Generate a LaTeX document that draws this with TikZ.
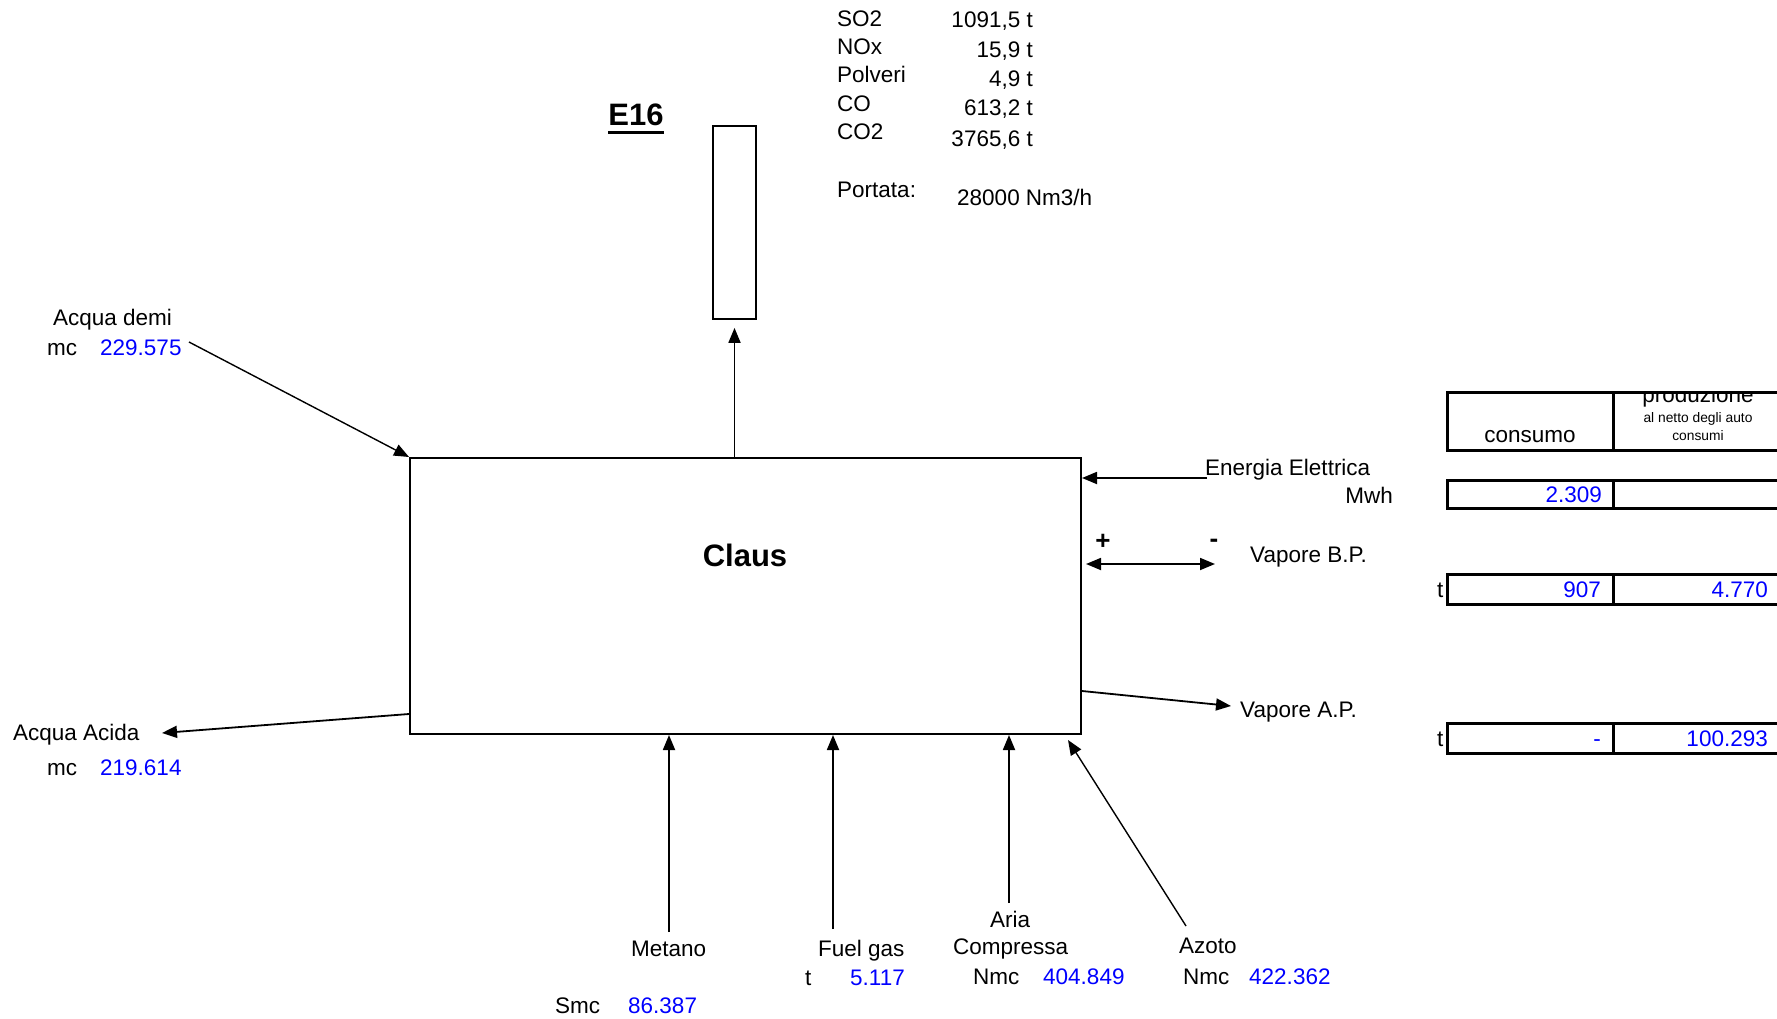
\documentclass[tikz,border=0pt]{standalone}
\usepackage{fontspec}
\setmainfont{Liberation Sans}
\usetikzlibrary{arrows.meta,positioning,calc}
\definecolor{valblue}{RGB}{0,0,255}

\tikzset{
  txt/.style={inner sep=0pt, anchor=base west, font=\fontsize{22.5}{27}\selectfont},
  val/.style={txt, text=valblue},
  small/.style={inner sep=0pt, anchor=base, font=\fontsize{13.8}{16}\selectfont},
  sign/.style={inner sep=0pt, font=\bfseries\fontsize{26}{30}\selectfont},
  flow/.style={line width=1.8pt, ->, >={Triangle[length=15pt,width=12pt]}},
  cell/.style={line width=3pt},
}

\begin{document}
\begin{tikzpicture}[x=1pt, y=-1pt]
    \useasboundingbox (0,0) rectangle (1777,1019);
    \clip (0,0) rectangle (1777,1019);

    % Unit and stack
    \node[draw, line width=2pt, minimum width=671pt, minimum height=276pt, inner sep=0pt] (claus) at (745.5,596) {};
    \node[font=\bfseries\fontsize{31}{36}\selectfont, inner sep=0pt] (clauslbl) at (745,555) {Claus};
    \node[draw, line width=1.8pt, minimum width=43pt, minimum height=193pt, inner sep=0pt] (stack) at (734.5,222.5) {};
    \node[font=\bfseries\fontsize{31}{36}\selectfont, inner sep=0pt, anchor=base] (e16) at (636,126) {E16};
    \draw[line width=3pt] ([yshift=-7pt]e16.base west) -- ([yshift=-7pt]e16.base east);

    % Emissions
    \node[txt] (so2) at (837,27) {SO2};
    \node[txt] (nox) at (837,55) {NOx};
    \node[txt] (polv) at (837,83) {Polveri};
    \node[txt] (co) at (837,112) {CO};
    \node[txt] (co2) at (837,140) {CO2};
    \node[txt, anchor=base east] (so2v) at (1033,28) {1091,5 t};
    \node[txt, anchor=base east] (noxv) at (1033,58) {15,9 t};
    \node[txt, anchor=base east] (polvv) at (1033,87) {4,9 t};
    \node[txt, anchor=base east] (cov) at (1033,116) {613,2 t};
    \node[txt, anchor=base east] (co2v) at (1033,147) {3765,6 t};
    \node[txt] (port) at (837,198) {Portata:};
    \node[txt] (portv) at (957,206) {28000 Nm3/h};

    % Left side
    \node[txt] (demi) at (53,325) {Acqua demi};
    \node[txt] (demiu) at (47,355) {mc};
    \node[val] (demiv) at (100,355) {229.575};
    \node[txt] (acida) at (13,740) {Acqua Acida};
    \node[txt] (acidau) at (47,775) {mc};
    \node[val] (acidav) at (100,775) {219.614};

    % Bottom
    \node[txt] (metano) at (631,956) {Metano};
    \node[txt] (metanou) at (555,1013) {Smc};
    \node[val] (metanov) at (628,1013) {86.387};
    \node[txt] (fuel) at (818,956) {Fuel gas};
    \node[txt] (fuelu) at (805,985) {t};
    \node[val] (fuelv) at (850,985) {5.117};
    \node[txt, anchor=base] (aria) at (1010,927) {Aria};
    \node[txt] (compr) at (953,954) {Compressa};
    \node[txt] (ariau) at (973,984) {Nmc};
    \node[val] (ariav) at (1043,984) {404.849};
    \node[txt] (azoto) at (1179,953) {Azoto};
    \node[txt] (azotou) at (1183,984) {Nmc};
    \node[val] (azotov) at (1249,984) {422.362};

    % Right side
    \node[txt] (ee) at (1205,475) {Energia Elettrica};
    \node[txt, anchor=base east] (eeu) at (1393,503) {Mwh};
    \node[sign] (plus) at (1103,542) {+};
    \node[sign] (minus) at (1214,543) {-};
    \node[txt] (bp) at (1250,562) {Vapore B.P.};
    \node[txt] (ap) at (1240,717) {Vapore A.P.};

    % Free ends
    \coordinate (demi-start) at (189,342);
    \coordinate (acida-tip) at (162,733);
    \coordinate (metano-start) at (669,932);
    \coordinate (fuel-start) at (833,929);
    \coordinate (aria-start) at (1009,903);
    \coordinate (azoto-start) at (1186,926);
    \coordinate (ee-start) at (1207,478);
    \coordinate (bp-out) at (1215,564);
    \coordinate (ap-tip) at (1231,706);

    % Connections
    \draw[flow, line width=1.4pt] (demi-start) -- (claus.north west);
    \draw[flow] (claus.west |- 0,714) -- (acida-tip);
    \draw[flow, shorten >=8pt] (claus.north -| stack.south) -- (stack.south);
    \draw[flow] (metano-start) -- (claus.south -| metano-start);
    \draw[flow] (fuel-start) -- (claus.south -| fuel-start);
    \draw[flow] (aria-start) -- (claus.south -| aria-start);
    \draw[flow, line width=1.4pt] (azoto-start) -- ($(claus.south east)+(-14,5)$);
    \draw[flow] (ee-start) -- (claus.east |- ee-start);
    \draw[flow, <->, shorten <=4pt] (claus.east |- bp-out) -- (bp-out);
    \draw[flow] (claus.east |- 0,691) -- (ap-tip);

    % Table
    \draw[cell] (1447,392) rectangle (1790,450);
    \draw[cell] (1613,392) -- (1613,450);
    \node[txt, anchor=base] (cons) at (1530,442) {consumo};
    \begin{scope}
      \clip (1613,392) rectangle (1790,450);
      \node[txt, anchor=base] (prod) at (1698,402) {produzione};
    \end{scope}
    \node[small] (prod2) at (1698,422) {al netto degli auto};
    \node[small] (prod3) at (1698,440) {consumi};

    \draw[cell] (1447,480) rectangle (1790,508);
    \draw[cell] (1613,480) -- (1613,508);
    \node[val, anchor=base east] (eec) at (1602,502) {2.309};

    \draw[cell] (1447,574) rectangle (1790,604);
    \draw[cell] (1613,574) -- (1613,604);
    \node[txt] (bpu) at (1437,597) {t};
    \node[val, anchor=base east] (bpc) at (1601,597) {907};
    \node[val, anchor=base east] (bpp) at (1768,597) {4.770};

    \draw[cell] (1447,723) rectangle (1790,753);
    \draw[cell] (1613,723) -- (1613,753);
    \node[txt] (apu) at (1437,746) {t};
    \node[val, anchor=base east] (apc) at (1601,746) {-};
    \node[val, anchor=base east] (app) at (1768,746) {100.293};
\end{tikzpicture}
\end{document}
